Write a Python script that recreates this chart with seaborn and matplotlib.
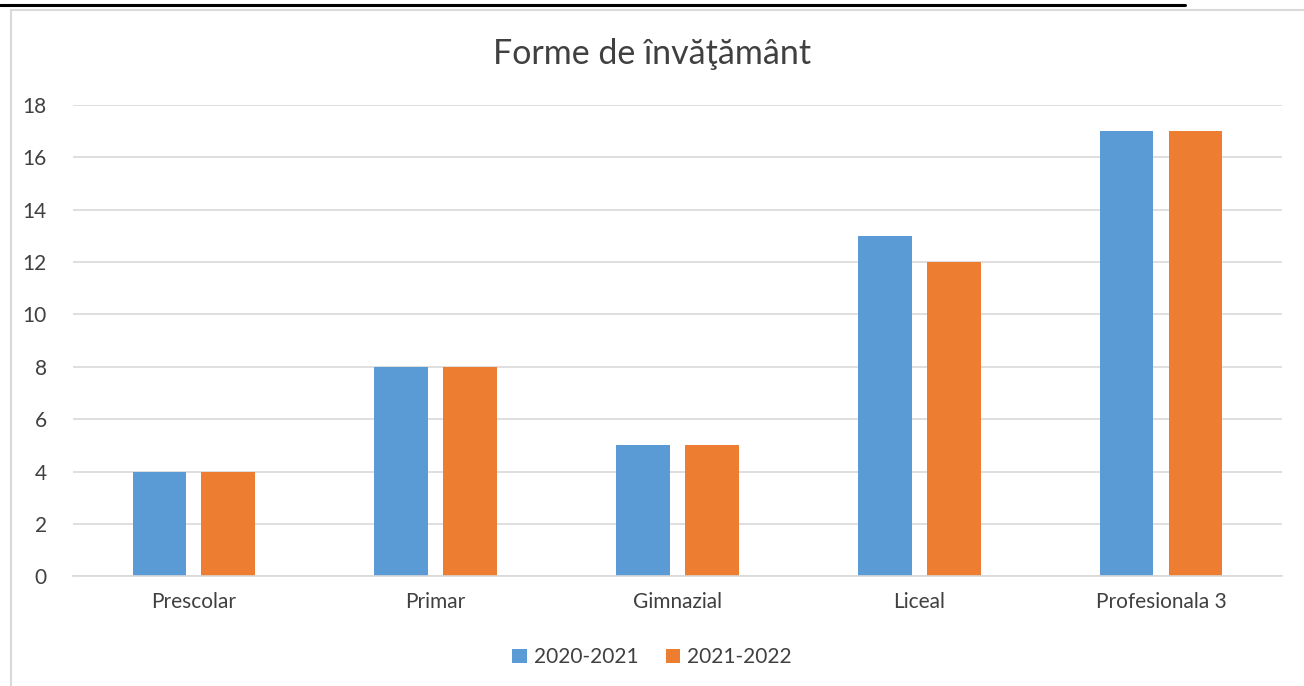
import matplotlib
matplotlib.use("Agg")
import matplotlib.pyplot as plt
from matplotlib.lines import Line2D
from matplotlib.patches import Patch
import pandas as pd
import seaborn as sns

categories = ["Prescolar", "Primar", "Gimnazial", "Liceal", "Profesionala 3"]
series_names = ["2020-2021", "2021-2022"]
values_2020 = [4, 8, 5, 13, 17]
values_2021 = [4, 8, 5, 12, 17]
y_ticks = [0, 2, 4, 6, 8, 10, 12, 14, 16, 18]
colors = ["#5B9BD5", "#ED7D31"]
text_color = "#404040"
grid_color = "#D9D9D9"

df = pd.DataFrame(
    {
        "category": categories * 2,
        "series": [series_names[0]] * len(categories) + [series_names[1]] * len(categories),
        "value": values_2020 + values_2021,
    }
)

sns.set_theme(style="white")
plt.rcParams["font.family"] = ["Lato", "DejaVu Sans"]

fig = plt.figure(figsize=(13.04, 6.86), dpi=100)
ax = fig.add_axes([0.056, 0.160, 0.927, 0.687])

sns.barplot(
    data=df, x="category", y="value", hue="series",
    order=categories, hue_order=series_names, palette=colors,
    width=0.57, gap=0.22, saturation=1, errorbar=None,
    linewidth=0, legend=False, ax=ax,
)

ax.set_ylim(0, 18)
ax.set_yticks(y_ticks)
ax.set_xlim(-0.5, len(categories) - 0.5)
ax.yaxis.grid(True, color=grid_color, linewidth=1.2)
ax.set_axisbelow(True)
for side in ["top", "right", "left"]:
    ax.spines[side].set_visible(False)
ax.spines["bottom"].set_color(grid_color)
ax.spines["bottom"].set_linewidth(1.2)
ax.tick_params(axis="both", length=0, labelsize=15, labelcolor=text_color)
ax.tick_params(axis="y", pad=19)
ax.tick_params(axis="x", pad=11)
ax.set_xlabel("")
ax.set_ylabel("")

fig.text(0.5, 0.921, "Forme de învăţământ", ha="center", va="center",
         fontsize=24.5, color=text_color)

handles = [Patch(facecolor=c, edgecolor="none") for c in colors]
fig.legend(handles, series_names, loc="center", bbox_to_anchor=(0.5, 0.042),
           ncol=2, frameon=False, fontsize=15, labelcolor=text_color,
           handlelength=0.7, handleheight=0.7, handletextpad=0.35, columnspacing=1.3)

# outer frame like the original sheet
fig.add_artist(Line2D([0, 0.909], [0.993, 0.993], color="black", linewidth=2.2))
fig.add_artist(Line2D([0.0085, 1.0], [0.986, 0.986], color=grid_color, linewidth=1.5))
fig.add_artist(Line2D([0.0085, 0.0085], [0.0, 0.986], color=grid_color, linewidth=1.5))

fig.savefig("out.png", dpi=100)
